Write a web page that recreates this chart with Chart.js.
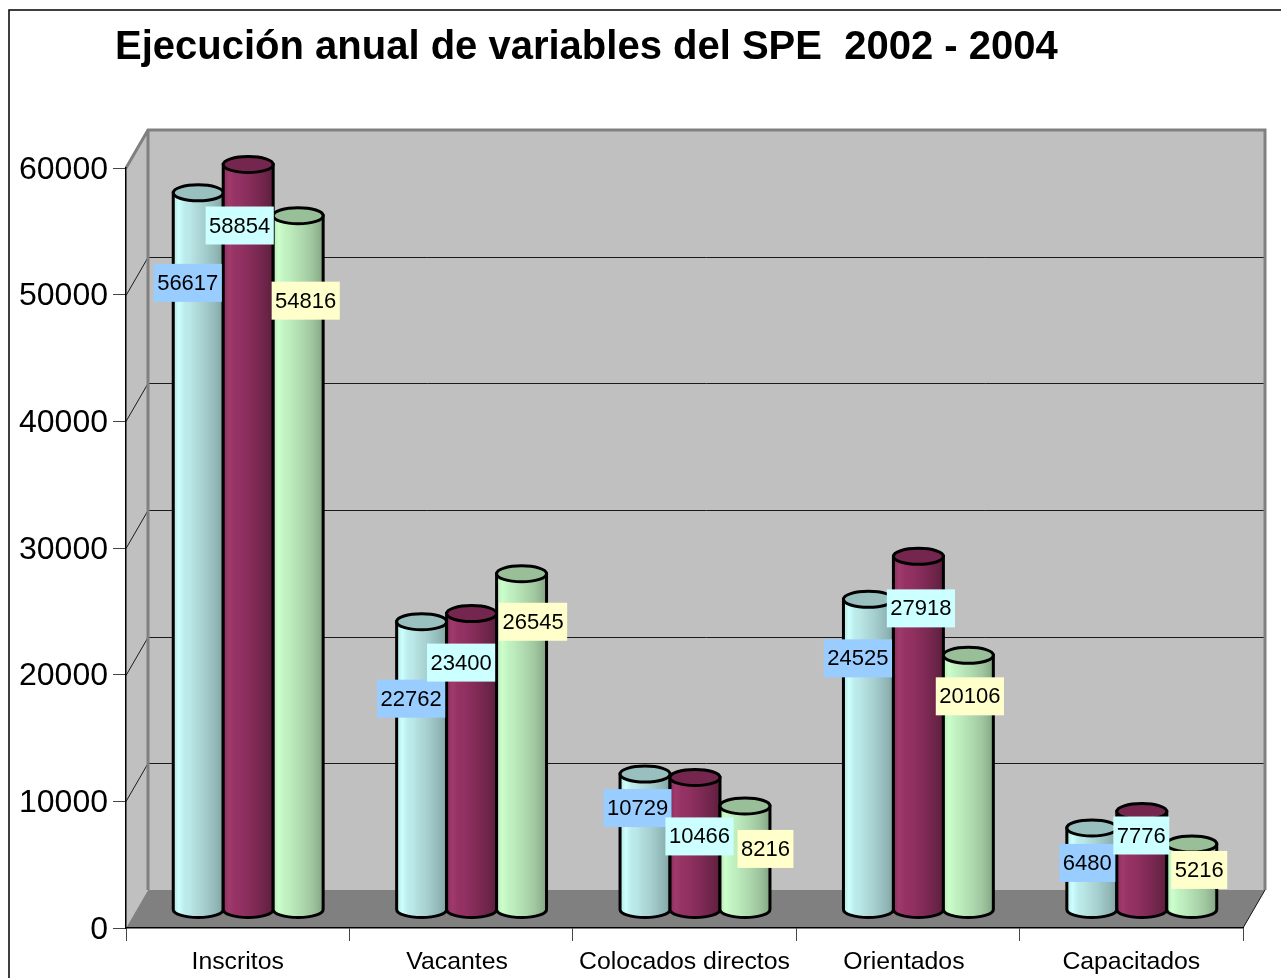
<!DOCTYPE html>
<html>
<head>
<meta charset="utf-8">
<title>Ejecución anual de variables del SPE</title>
<script src="https://cdn.jsdelivr.net/npm/chart.js@4"></script>
<style>
  html, body { margin: 0; padding: 0; background: #fff; overflow: hidden; }
  canvas { display: block; }
</style>
</head>
<body>
<canvas id="chart-1" width="1281" height="978"></canvas>
<script>
const categories = ['Inscritos', 'Vacantes', 'Colocados directos', 'Orientados', 'Capacitados'];
const seriesNames = ['2002', '2003', '2004'];
const values2002 = [56617, 22762, 10729, 24525, 6480];
const values2003 = [58854, 23400, 10466, 27918, 7776];
const values2004 = [54816, 26545, 8216, 20106, 5216];
const yTicks = [0, 10000, 20000, 30000, 40000, 50000, 60000];
const titleText = 'Ejecución anual de variables del SPE  2002 - 2004';

// depth of the fake 3d box
const depthX = 22, depthY = 38;
const radiusY = 8;
// cylinders stand about halfway into the box
const cylShiftX = 10.5, cylShiftY = 18;
const fontName = '"Liberation Sans", Arial, sans-serif';

// look of each series: gradient across the cylinder, cap colour, label background
const looks = [
  { stops: ['#b5e4e4', '#ccffff', '#bdecec', '#b9e6e6', '#b2dcdc', '#aad4d4', '#a3caca', '#98bfbf', '#8fb3b3', '#80a0a0'], cap: '#99bfbf', label: '#99ccff' },
  { stops: ['#8a2e5c', '#a03a6c', '#963365', '#933163', '#8c2f5e', '#842c58', '#7c2953', '#73264d', '#682345', '#5c1e3d'], cap: '#75264e', label: '#ccffff' },
  { stops: ['#b8e8b8', '#ccffcc', '#c2f3c2', '#bdecbd', '#b6e3b6', '#afdaaf', '#a8d0a8', '#9fc69f', '#92b692', '#82a282'], cap: '#99bf99', label: '#ffffcc' }
];

// hand placed data labels in the original: shift from the top centre of each cylinder
const labelShiftX = [[-11, -11, -8, -11, -5], [-9, -11, 4, 2, -1], [7, 11, 20, 1, 7]];
const labelShiftY = [[91, 78, 35, 60, 36], [62, 50, 60, 53, 25], [86, 49, 44, 42, 27]];
// two of the category labels sit left of centre in the original
const xLabelShift = [0, -4, 0, -4, 0];

const boxPlugin = {
  id: 'box3d',
  beforeDraw(chart) {
    // title sits left of the plot, move the block over
    chart.titleBlock.left = 115;
    chart.titleBlock.right = 1270;

    chart.scales.x.getLabelItems().forEach((item, i) => {
      item.options.translation[0] += xLabelShift[i];
    });
    chart.scales.y.getLabelItems().forEach(item => {
      item.options.translation[1] += 2;
    });

    const ctx = chart.ctx;
    const area = chart.chartArea;
    const y = chart.scales.y;
    ctx.save();

    // outer frame, runs off the right and bottom of the picture
    ctx.strokeStyle = '#000';
    ctx.lineWidth = 1.5;
    ctx.beginPath();
    ctx.moveTo(9, 979);
    ctx.lineTo(9, 10);
    ctx.lineTo(1282, 10);
    ctx.stroke();

    // back wall
    ctx.fillStyle = '#c0c0c0';
    ctx.fillRect(area.left + depthX, area.top - depthY, area.width, area.height);

    // side wall
    ctx.beginPath();
    ctx.moveTo(area.left, area.top);
    ctx.lineTo(area.left + depthX, area.top - depthY);
    ctx.lineTo(area.left + depthX, area.bottom - depthY);
    ctx.lineTo(area.left, area.bottom);
    ctx.closePath();
    ctx.fill();

    // floor
    ctx.fillStyle = '#808080';
    ctx.beginPath();
    ctx.moveTo(area.left, area.bottom);
    ctx.lineTo(area.left + depthX, area.bottom - depthY);
    ctx.lineTo(area.right + depthX, area.bottom - depthY);
    ctx.lineTo(area.right, area.bottom);
    ctx.closePath();
    ctx.fill();

    // grid lines on both walls
    ctx.strokeStyle = '#1a1a1a';
    ctx.lineWidth = 1;
    yTicks.slice(1, -1).forEach(v => {
      const py = Math.round(y.getPixelForValue(v)) + 0.5;
      ctx.beginPath();
      ctx.moveTo(area.left, py);
      ctx.lineTo(area.left + depthX, py - depthY);
      ctx.lineTo(area.right + depthX, py - depthY);
      ctx.stroke();
    });

    // wall edges
    ctx.strokeStyle = '#808080';
    ctx.lineWidth = 3;
    ctx.beginPath();
    ctx.moveTo(area.left, area.top);
    ctx.lineTo(area.left + depthX, area.top - depthY);
    ctx.lineTo(area.right + depthX, area.top - depthY);
    ctx.lineTo(area.right + depthX, area.bottom - depthY);
    ctx.moveTo(area.left + depthX, area.top - depthY);
    ctx.lineTo(area.left + depthX, area.bottom - depthY);
    ctx.stroke();

    // front edge of floor
    ctx.strokeStyle = '#111';
    ctx.lineWidth = 1;
    ctx.beginPath();
    ctx.moveTo(area.right, area.bottom);
    ctx.lineTo(area.right + depthX, area.bottom - depthY);
    ctx.stroke();
    ctx.restore();
  },
  afterDatasetsDraw(chart) {
    const ctx = chart.ctx;
    ctx.save();
    chart.data.datasets.forEach((ds, s) => {
      chart.getDatasetMeta(s).data.forEach(bar => drawCylinder(ctx, bar, looks[s]));
    });

    // labels go over all cylinders
    ctx.font = '22px ' + fontName;
    ctx.textAlign = 'center';
    ctx.textBaseline = 'middle';
    chart.data.datasets.forEach((ds, s) => {
      chart.getDatasetMeta(s).data.forEach((bar, i) => {
        const text = String(ds.data[i]);
        const cx = bar.x + depthX / 2 + labelShiftX[s][i];
        const cy = bar.y - depthY / 2 + labelShiftY[s][i];
        const w = ctx.measureText(text).width + 7;
        ctx.fillStyle = looks[s].label;
        ctx.fillRect(cx - w / 2, cy - 19, w, 38);
        ctx.fillStyle = '#000';
        ctx.fillText(text, cx, cy + 1);
      });
    });
    ctx.restore();
  }
};

function drawCylinder(ctx, bar, look) {
  const cx = bar.x + cylShiftX;
  const top = bar.y - cylShiftY;
  const bottom = bar.base - cylShiftY;
  const rx = bar.width / 2;

  const grad = ctx.createLinearGradient(cx - rx, 0, cx + rx, 0);
  look.stops.forEach((c, i) => grad.addColorStop(i / (look.stops.length - 1), c));

  ctx.beginPath();
  ctx.moveTo(cx - rx, top);
  ctx.lineTo(cx - rx, bottom);
  ctx.ellipse(cx, bottom, rx, radiusY, 0, Math.PI, 0, true);
  ctx.lineTo(cx + rx, top);
  ctx.closePath();
  ctx.fillStyle = grad;
  ctx.fill();
  ctx.strokeStyle = '#000';
  ctx.lineWidth = 3;
  ctx.stroke();

  ctx.beginPath();
  ctx.ellipse(cx, top, rx, radiusY, 0, 0, Math.PI * 2);
  ctx.fillStyle = look.cap;
  ctx.fill();
  ctx.stroke();
}

const ctx = document.getElementById('chart-1').getContext('2d');
const allValues = [values2002, values2003, values2004];
const chart = new Chart(ctx, {
  type: 'bar',
  data: {
    labels: categories,
    datasets: allValues.map((vals, s) => ({
      label: seriesNames[s],
      data: vals,
      backgroundColor: 'transparent',
      borderWidth: 0,
      categoryPercentage: 0.671,
      barPercentage: 1
    }))
  },
  plugins: [boxPlugin],
  options: {
    responsive: false,
    animation: false,
    layout: { padding: { left: 0, right: 38, top: 0, bottom: 0 } },
    plugins: {
      legend: { display: false },
      tooltip: { enabled: false },
      title: {
        display: true,
        text: titleText,
        align: 'start',
        color: '#000',
        font: { family: fontName, size: 40, weight: 'bold' },
        padding: { top: 24, bottom: 96 }
      }
    },
    scales: {
      x: {
        afterFit(scale) { scale.height = 50; },
        border: { color: '#000', width: 1.5 },
        grid: { drawOnChartArea: false, drawTicks: true, tickLength: 13, color: '#444' },
        ticks: { color: '#000', font: { family: fontName, size: 24.8 }, padding: 6, maxRotation: 0, autoSkip: false }
      },
      y: {
        min: 0,
        max: 60000,
        afterFit(scale) { scale.width = 126; },
        afterBuildTicks(scale) { scale.ticks = yTicks.map(v => ({ value: v })); },
        border: { color: '#000', width: 1.5 },
        grid: { drawOnChartArea: false, drawTicks: true, tickLength: 13, color: '#444' },
        ticks: { color: '#000', font: { family: fontName, size: 32 }, padding: 5, callback: v => String(v) }
      }
    }
  }
});
</script>
</body>
</html>
